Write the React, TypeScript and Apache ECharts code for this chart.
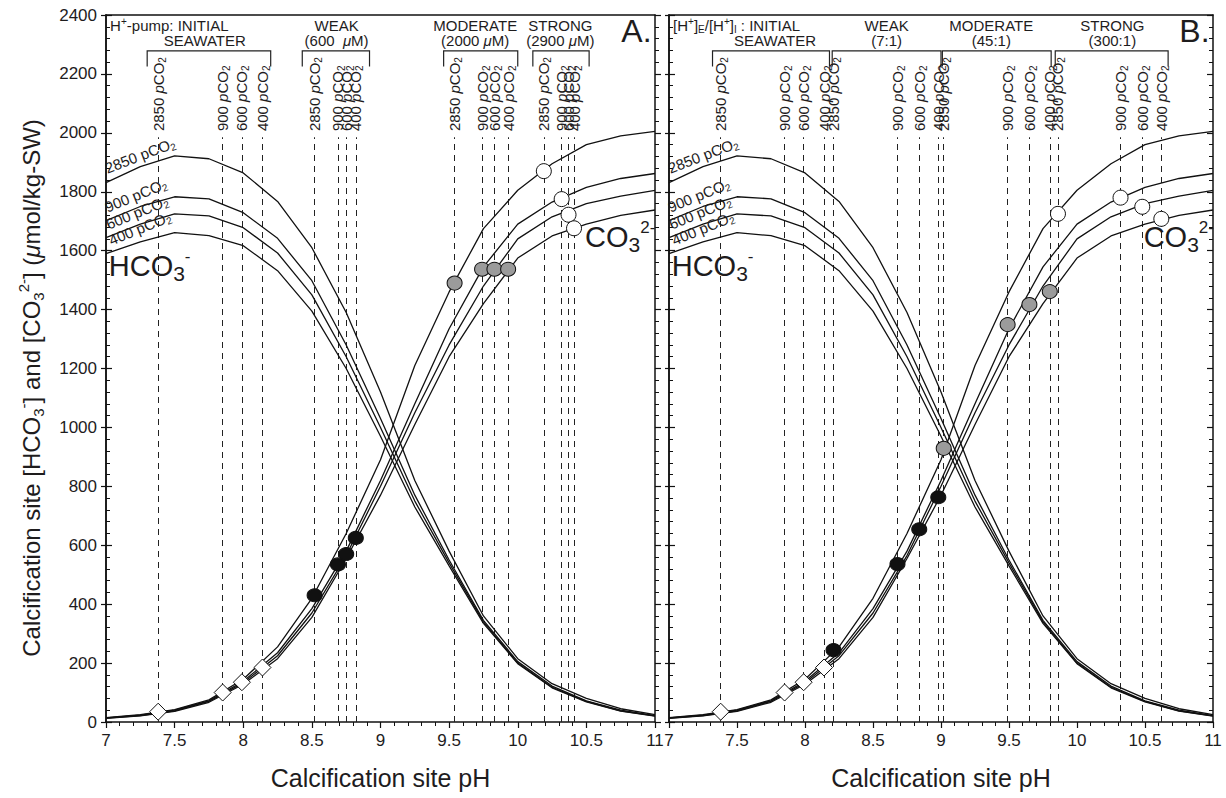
import React, { useEffect, useRef } from "react";
import * as echarts from "echarts";

// ---------- data ----------
const pH = [7, 7.25, 7.5, 7.75, 8, 8.25, 8.5, 8.75, 9, 9.25, 9.5, 9.75, 10, 10.25, 10.5, 10.75, 11];
const pco2Levels = ["2850", "900", "600", "400"];

const hco3_2850 = [1831, 1885, 1922, 1912, 1864, 1767, 1610, 1390, 1120, 820, 580, 360, 215, 130, 80, 45, 25];
const hco3_900 = [1702, 1750, 1783, 1776, 1729, 1642, 1498, 1280, 1030, 770, 550, 345, 205, 122, 72, 40, 22];
const hco3_600 = [1644, 1690, 1725, 1718, 1678, 1592, 1450, 1240, 1000, 750, 540, 340, 200, 118, 70, 38, 21];
const hco3_400 = [1590, 1630, 1661, 1651, 1617, 1532, 1395, 1200, 970, 730, 530, 335, 198, 116, 68, 37, 20];

const co3_2850 = [15, 25, 42, 75, 145, 255, 420, 640, 890, 1210, 1460, 1675, 1805, 1895, 1960, 1990, 2005];
const co3_900 = [14, 23, 40, 72, 138, 235, 385, 580, 820, 1080, 1335, 1545, 1690, 1765, 1815, 1845, 1862];
const co3_600 = [13, 22, 38, 70, 133, 225, 370, 565, 800, 1050, 1280, 1480, 1640, 1715, 1760, 1785, 1805];
const co3_400 = [12, 21, 36, 67, 128, 215, 355, 555, 770, 1010, 1240, 1420, 1575, 1650, 1690, 1720, 1738];

// markers (pH, value), order 2850, 900, 600, 400
const initialPH = [7.38, 7.85, 7.99, 8.14];
const initialVal = [35, 100, 135, 185];

const A_weakPH = [8.52, 8.69, 8.75, 8.82];
const A_weakVal = [430, 535, 570, 625];
const A_modPH = [9.54, 9.74, 9.83, 9.93];
const A_modVal = [1490, 1537, 1537, 1537];
const A_strongPH = [10.19, 10.32, 10.37, 10.41];
const A_strongVal = [1870, 1775, 1722, 1676];

const B_weakPH = [8.21, 8.68, 8.84, 8.98];
const B_weakVal = [244, 536, 654, 763];
const B_modPH = [9.02, 9.49, 9.65, 9.8];
const B_modVal = [929, 1349, 1417, 1461];
const B_strongPH = [9.86, 10.32, 10.48, 10.62];
const B_strongVal = [1725, 1780, 1749, 1708];

// group brackets (pH from, pH to)
const A_brackets = [[7.3, 8.2], [8.43, 8.92], [9.46, 10.0], [10.11, 10.52]];
const B_brackets = [[7.32, 8.18], [8.2, 9.0], [9.01, 9.81], [9.84, 10.67]];

const A_groupCenters = [7.72, 8.68, 9.69, 10.31];
const B_groupCenters = [7.78, 8.6, 9.37, 10.26];
const A_groupLine1 = ["", "{n|WEAK}", "{n|MODERATE}", "{n|STRONG}"];
const A_groupLine2 = ["{n|SEAWATER}", "{n|(600  }{i|μ}{n|M)}", "{n|(2000 }{i|μ}{n|M)}", "{n|(2900 }{i|μ}{n|M)}"];
const B_groupLine1 = ["", "{n|WEAK}", "{n|MODERATE}", "{n|STRONG}"];
const B_groupLine2 = ["{n|SEAWATER}", "{n|(7:1)}", "{n|(45:1)}", "{n|(300:1)}"];

const DASH_TOP = 1985;
const LABEL_BASE = 2006;
const BRACKET_TOP = 2278;
const BRACKET_BOTTOM = 2225;
const HEAD1_Y = 2366;
const HEAD2_Y = 2312;

const xTicks = { min: 7, max: 11, interval: 0.5 };
const yTicks = { min: 0, max: 2400, interval: 200 };

// ---------- styling ----------
const FONT = '"Liberation Sans", Arial, Helvetica, sans-serif';
const TXT = "#1e1c1d";

const rich = {
  n: { fontSize: 15, lineHeight: 18, color: TXT, fontFamily: FONT },
  i: { fontSize: 15, lineHeight: 18, color: TXT, fontFamily: FONT, fontStyle: "italic" },
  s: { fontSize: 10, lineHeight: 10, verticalAlign: "bottom", color: TXT, fontFamily: FONT },
  u: { fontSize: 10, lineHeight: 10, verticalAlign: "top", color: TXT, fontFamily: FONT },
  b: { fontSize: 29, lineHeight: 36, color: TXT, fontFamily: FONT },
  bs: { fontSize: 21, lineHeight: 21, verticalAlign: "bottom", color: TXT, fontFamily: FONT },
  bu: { fontSize: 17, lineHeight: 20, verticalAlign: "top", color: TXT, fontFamily: FONT },
  big: { fontSize: 32, lineHeight: 36, color: TXT, fontFamily: FONT },
};

function txt(x: number, y: number, formatter: string, extra: any = {}) {
  return {
    value: [x, y],
    label: {
      show: true,
      formatter,
      position: "inside",
      align: "left",
      verticalAlign: "middle",
      opacity: 1,
      color: TXT,
      rich,
      ...extra,
    },
  };
}

function zip(xs: number[], ys: number[]) {
  return xs.map((x, i) => [x, ys[i]]);
}

function buildPanel(
  xi: number,
  yi: number,
  weakPH: number[], weakVal: number[],
  modPH: number[], modVal: number[],
  strongPH: number[], strongVal: number[],
  brackets: number[][],
  centers: number[],
  line1: string[],
  line2: string[],
  headerLeft: string,
  letter: string
) {
  const series: any[] = [];
  const curves = [hco3_2850, hco3_900, hco3_600, hco3_400, co3_2850, co3_900, co3_600, co3_400];
  curves.forEach((c) => {
    series.push({
      type: "line",
      xAxisIndex: xi,
      yAxisIndex: yi,
      data: zip(pH, c),
      showSymbol: false,
      symbol: "none",
      lineStyle: { color: "#111", width: 1.3 },
      silent: true,
      z: 3,
    });
  });
  const dashPH = [...initialPH, ...weakPH, ...modPH, ...strongPH];
  series.push({
    type: "lines",
    coordinateSystem: "cartesian2d",
    xAxisIndex: xi,
    yAxisIndex: yi,
    data: dashPH.map((x) => ({ coords: [[x, 0], [x, DASH_TOP]] })),
    lineStyle: { color: "#222", width: 1, type: [6, 5], opacity: 1 },
    silent: true,
    z: 2,
  });
  series.push({
    type: "lines",
    coordinateSystem: "cartesian2d",
    polyline: true,
    xAxisIndex: xi,
    yAxisIndex: yi,
    data: brackets.map((b) => ({
      coords: [[b[0], BRACKET_BOTTOM], [b[0], BRACKET_TOP], [b[1], BRACKET_TOP], [b[1], BRACKET_BOTTOM]],
    })),
    lineStyle: { color: "#222", width: 1.2, opacity: 1 },
    silent: true,
    z: 2,
  });
  const markerSets = [
    { xs: initialPH, ys: initialVal, symbol: "diamond", size: 17, color: "#fff" },
    { xs: weakPH, ys: weakVal, symbol: "circle", size: [15, 13], color: "#111" },
    { xs: modPH, ys: modVal, symbol: "circle", size: [15, 14], color: "#9b9b9b" },
    { xs: strongPH, ys: strongVal, symbol: "circle", size: [15, 15], color: "#fff" },
  ];
  markerSets.forEach((m) => {
    series.push({
      type: "scatter",
      xAxisIndex: xi,
      yAxisIndex: yi,
      data: zip(m.xs, m.ys),
      symbol: m.symbol,
      symbolSize: m.size,
      itemStyle: { color: m.color, borderColor: "#111", borderWidth: 1, opacity: 1 },
      silent: true,
      z: 5,
    });
  });

  // text annotations
  const texts: any[] = [];
  dashPH.forEach((x, i) => {
    const lvl = pco2Levels[i % 4];
    texts.push(txt(x, LABEL_BASE, `{n|${lvl} }{i|p}{n|CO}{s|2}`, { rotate: 90 }));
  });
  texts.push(txt(7.03, HEAD1_Y, headerLeft));
  centers.forEach((c, i) => {
    if (line1[i]) texts.push(txt(c, HEAD1_Y, line1[i], { align: "center" }));
    texts.push(txt(c, HEAD2_Y, line2[i], { align: "center" }));
  });
  texts.push(txt(10.975, 2345, `{big|${letter}}`, { align: "right" }));
  texts.push(txt(7.02, 1850, "{n|2850 pCO}{s|2}", { rotate: 21, verticalAlign: "bottom" }));
  texts.push(txt(7.02, 1718, "{n|900 pCO}{s|2}", { rotate: 22, verticalAlign: "bottom" }));
  texts.push(txt(7.03, 1660, "{n|600 pCO}{s|2}", { rotate: 22, verticalAlign: "bottom" }));
  texts.push(txt(7.05, 1606, "{n|400 pCO}{s|2}", { rotate: 22, verticalAlign: "bottom" }));
  texts.push(txt(7.02, 1548, "{b|HCO}{bs|3}{bu|-}"));
  texts.push(txt(10.49, 1645, "{b|CO}{bs|3}{bu|2-}"));

  series.push({
    type: "scatter",
    xAxisIndex: xi,
    yAxisIndex: yi,
    data: texts,
    symbol: "circle",
    symbolSize: 1,
    itemStyle: { color: "rgba(0,0,0,0)", opacity: 1 },
    silent: true,
    z: 6,
  });
  return series;
}

const axisLineStyle = { color: "#111", width: 1.5 };

function bottomX(grid: number, withName: boolean) {
  return {
    type: "value",
    gridIndex: grid,
    position: "bottom",
    ...xTicks,
    axisLine: { show: true, onZero: false, lineStyle: axisLineStyle },
    axisTick: { show: true, inside: false, length: 6, lineStyle: { color: "#111", width: 1.2 } },
    minorTick: { show: true, splitNumber: 5, length: 4, lineStyle: { color: "#111", width: 1 } },
    splitLine: { show: false },
    axisLabel: { fontSize: 17, color: TXT, fontFamily: FONT, margin: 10 },
    name: withName ? "Calcification site pH" : "",
    nameLocation: "middle",
    nameGap: 43,
    nameTextStyle: { fontSize: 25, color: TXT, fontFamily: FONT },
  };
}
function topX(grid: number) {
  return {
    type: "value",
    gridIndex: grid,
    position: "top",
    ...xTicks,
    axisLine: { show: true, onZero: false, lineStyle: axisLineStyle },
    axisTick: { show: false },
    axisLabel: { show: false },
    splitLine: { show: false },
  };
}
function yAx(grid: number, position: string, opts: any) {
  return {
    type: "value",
    gridIndex: grid,
    position,
    ...yTicks,
    axisLine: { show: true, onZero: false, lineStyle: axisLineStyle },
    splitLine: { show: false },
    axisLabel: { show: false },
    ...opts,
  };
}

const yName =
  "{n|Calcification site [HCO}{s|3}{u|-}{n|] and [CO}{s|3}{u|2-}{n|] (}{i|μ}{n|mol/kg-SW)}";
const yNameRich = {
  n: { fontSize: 24, lineHeight: 30, fill: TXT, fontFamily: FONT },
  i: { fontSize: 24, lineHeight: 30, fill: TXT, fontFamily: FONT, fontStyle: "italic" },
  s: { fontSize: 15, lineHeight: 15, verticalAlign: "bottom", fill: TXT, fontFamily: FONT },
  u: { fontSize: 15, lineHeight: 15, verticalAlign: "top", fill: TXT, fontFamily: FONT },
};

export default function App() {
  const ref = useRef<HTMLDivElement>(null);
  useEffect(() => {
    if (!ref.current) return;
    const chart = echarts.init(ref.current, undefined, { renderer: "svg" });
    const tickIn = { show: true, inside: true, length: 6, lineStyle: { color: "#111", width: 1.2 } };
    const tickOut = { show: true, inside: false, length: 5, lineStyle: { color: "#111", width: 1.2 } };
    const minor = { show: true, splitNumber: 5, length: 4, lineStyle: { color: "#111", width: 1 } };
    const option: any = {
      animation: false,
      backgroundColor: "#fff",
      textStyle: { fontFamily: FONT },
      grid: [
        { left: 106, top: 15, width: 549, height: 707, containLabel: false },
        { left: 669, top: 15, width: 544, height: 707, containLabel: false },
      ],
      graphic: [
        {
          type: "text",
          x: 31,
          y: 388,
          rotation: Math.PI / 2,
          style: {
            text: yName,
            rich: yNameRich,
            align: "center",
            verticalAlign: "middle",
            fill: TXT,
            font: `24px ${FONT}`,
          },
          silent: true,
        },
      ],
      xAxis: [bottomX(0, true), topX(0), bottomX(1, true), topX(1)],
      yAxis: [
        yAx(0, "left", {
          axisTick: tickOut,
          axisLabel: {
            show: true, fontSize: 17, color: TXT, fontFamily: FONT, margin: 9,
            formatter: (v: number) => String(v),
          },
        }),
        yAx(0, "left", { axisTick: tickIn, minorTick: minor }),
        yAx(0, "right", { axisTick: { ...tickIn, inside: false }, minorTick: minor }),
        yAx(1, "left", { axisTick: { ...tickOut, length: 4 } }),
        yAx(1, "left", { axisTick: tickIn, minorTick: minor }),
        yAx(1, "right", { axisTick: tickIn, minorTick: minor }),
      ],
      series: [
        ...buildPanel(
          0, 0,
          A_weakPH, A_weakVal, A_modPH, A_modVal, A_strongPH, A_strongVal,
          A_brackets, A_groupCenters, A_groupLine1, A_groupLine2,
          "{n|H}{u|+}{n|-pump: INITIAL}", "A."
        ),
        ...buildPanel(
          2, 3,
          B_weakPH, B_weakVal, B_modPH, B_modVal, B_strongPH, B_strongVal,
          B_brackets, B_groupCenters, B_groupLine1, B_groupLine2,
          "{n|[H}{u|+}{n|]}{s|E}{n|/[H}{u|+}{n|]}{s|I}{n| : INITIAL}", "B."
        ),
      ],
    };
    chart.setOption(option);
    return () => chart.dispose();
  }, []);
  return (
    <div
      ref={ref}
      style={{ position: "fixed", left: 0, top: 0, width: 1226, height: 798, background: "#fff" }}
    />
  );
}
